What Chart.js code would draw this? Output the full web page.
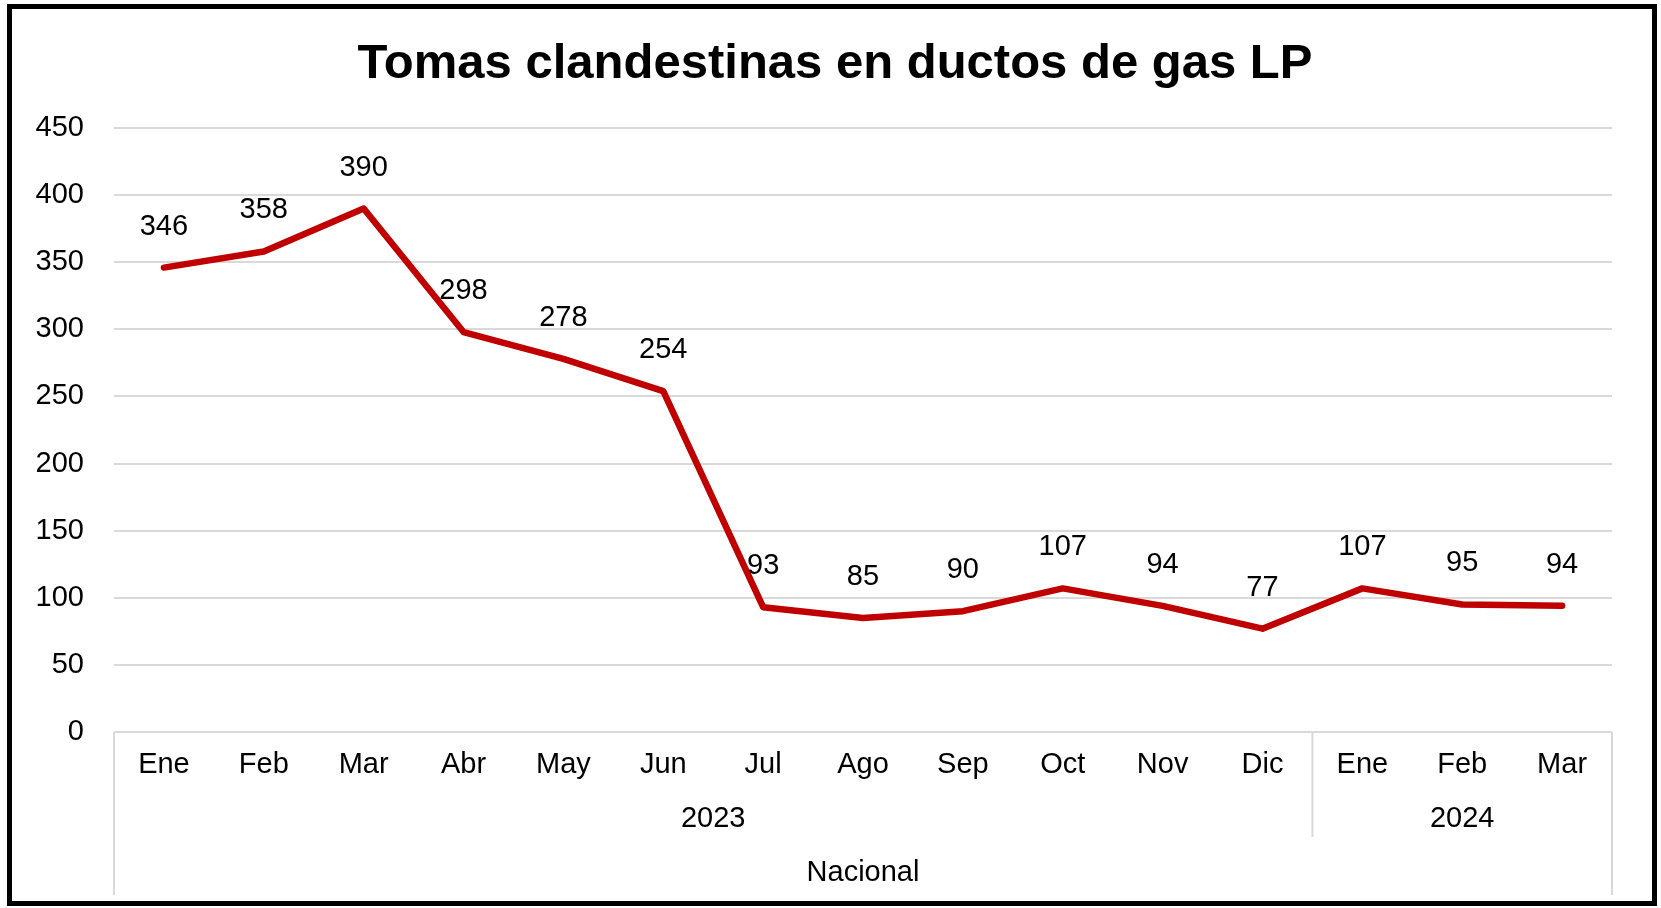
<!DOCTYPE html>
<html>
<head>
<meta charset="utf-8">
<script src="https://cdn.jsdelivr.net/npm/chart.js@4/dist/chart.umd.min.js"></script>
<style>
  html, body { margin: 0; padding: 0; background: #fff; }
  #wrap { width: 1661px; height: 908px; position: relative; }
</style>
</head>
<body>
<div id="wrap"><canvas id="tomasChart"></canvas></div>
<script>
const months = ["Ene", "Feb", "Mar", "Abr", "May", "Jun", "Jul", "Ago", "Sep", "Oct", "Nov", "Dic", "Ene", "Feb", "Mar"];
const years = ["2023", "2024"];
const yearSpans = [12, 3];
const groupLabel = "Nacional";
const tomas = [346, 358, 390, 298, 278, 254, 93, 85, 90, 107, 94, 77, 107, 95, 94];
const yTicks = [0, 50, 100, 150, 200, 250, 300, 350, 400, 450];
const chartTitle = "Tomas clandestinas en ductos de gas LP";

const FONT = "'Liberation Sans', Arial, sans-serif";
const GRID = "#d9d9d9";

// white page, title and black frame around the whole chart
const framePlugin = {
    id: "frame",
    beforeDraw(chart) {
        const ctx = chart.ctx;
        ctx.save();
        ctx.fillStyle = "#fff";
        ctx.fillRect(0, 0, chart.width, chart.height);
        ctx.font = "bold 49px " + FONT;
        ctx.fillStyle = "#000";
        ctx.textAlign = "center";
        ctx.textBaseline = "middle";
        ctx.fillText(chartTitle, 835, 64);
        ctx.restore();
    },
    afterDraw(chart) {
        const ctx = chart.ctx;
        ctx.save();
        ctx.strokeStyle = "#000";
        ctx.lineWidth = 5;
        ctx.strokeRect(9.5, 6.5, 1645, 897);
        ctx.restore();
    }
};

// value labels above each point
const valueLabels = {
    id: "valueLabels",
    afterDatasetsDraw(chart) {
        const ctx = chart.ctx;
        const meta = chart.getDatasetMeta(0);
        ctx.save();
        ctx.font = "29px " + FONT;
        ctx.fillStyle = "#000";
        ctx.textAlign = "center";
        ctx.textBaseline = "middle";
        meta.data.forEach((pt, i) => {
            ctx.fillText(String(tomas[i]), pt.x, pt.y - 41);
        });
        ctx.restore();
    }
};

// the grouped category axis: year and "Nacional" rows with their box lines
const groupAxis = {
    id: "groupAxis",
    afterDraw(chart) {
        const ctx = chart.ctx;
        const x = chart.scales.x;
        const area = chart.chartArea;
        const top = area.bottom;
        ctx.save();
        ctx.strokeStyle = GRID;
        ctx.lineWidth = 2;
        ctx.beginPath();
        ctx.moveTo(area.left, top);
        ctx.lineTo(area.left, top + 163);
        ctx.moveTo(area.right, top);
        ctx.lineTo(area.right, top + 163);
        let start = 0;
        for (let g = 0; g < yearSpans.length - 1; g++) {
            const end = start + yearSpans[g];
            const bx = (x.getPixelForValue(end - 1) + x.getPixelForValue(end)) / 2;
            ctx.moveTo(bx, top);
            ctx.lineTo(bx, top + 105);
            start = end;
        }
        ctx.stroke();

        ctx.font = "29px " + FONT;
        ctx.fillStyle = "#000";
        ctx.textAlign = "center";
        ctx.textBaseline = "middle";
        start = 0;
        years.forEach((yr, g) => {
            const end = start + yearSpans[g] - 1;
            const cx = (x.getPixelForValue(start) + x.getPixelForValue(end)) / 2;
            ctx.fillText(yr, cx, top + 87);
            start += yearSpans[g];
        });
        const nx = (x.getPixelForValue(0) + x.getPixelForValue(months.length - 1)) / 2;
        ctx.fillText(groupLabel, nx, top + 141);
        ctx.restore();
    }
};

new Chart(
    document.getElementById("tomasChart"),
    {
        type: "line",
        data: {
            labels: months,
            datasets: [{
                label: "Tomas clandestinas",
                data: tomas,
                borderColor: "#c00000",
                borderWidth: 6.5,
                pointRadius: 0,
                tension: 0,
                borderJoinStyle: "round",
                borderCapStyle: "round"
            }]
        },
        options: {
            responsive: true,
            maintainAspectRatio: false,
            animation: false,
            layout: { padding: { left: 0, right: 49, top: 128, bottom: 0 } },
            plugins: {
                legend: { display: false },
                tooltip: { enabled: false },
                title: { display: false }
            },
            scales: {
                x: {
                    offset: true,
                    grid: { display: false, drawTicks: false },
                    border: { display: false },
                    ticks: {
                        color: "#000",
                        font: { family: FONT, size: 29 },
                        padding: 16,
                        maxRotation: 0,
                        autoSkip: false
                    },
                    afterFit(s) { s.height = 176; }
                },
                y: {
                    min: 0,
                    max: 450,
                    afterBuildTicks(s) { s.ticks = yTicks.map(v => ({ value: v })); },
                    grid: { color: GRID, lineWidth: 2, drawTicks: false },
                    border: { display: false },
                    ticks: {
                        color: "#000",
                        font: { family: FONT, size: 29 },
                        padding: 30
                    },
                    afterFit(s) { s.width = 114; }
                }
            }
        },
        plugins: [framePlugin, valueLabels, groupAxis]
    }
);
</script>
</body>
</html>
